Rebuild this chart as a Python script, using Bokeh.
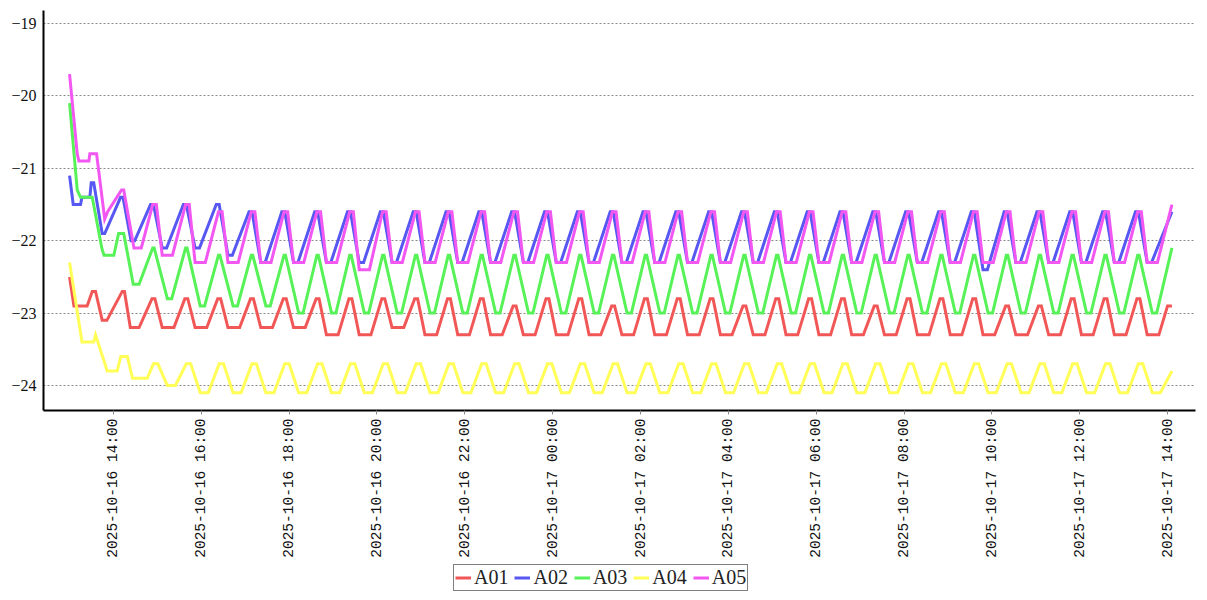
import math
from datetime import datetime, timedelta

from bokeh.plotting import figure
from bokeh.layouts import column
from bokeh.models import (Range1d, FixedTicker, DatetimeTickFormatter,
                          CustomJSTickFormatter, Legend, LegendItem)
from bokeh.embed import file_html
from bokeh.resources import INLINE

# ---------------- data ----------------
START = datetime(2025, 10, 16, 13, 0)

series_names = ["A01", "A02", "A03", "A04", "A05"]
colors = ["#f25757", "#5757f2", "#57f257", "#ffff57", "#f257f2"]

# start time (minutes after START) of each regular oscillation cycle
cycle_t = [110.6, 155.5, 200.4, 245.2, 290.0, 334.9, 379.7, 424.6, 469.5, 514.3,
           559.1, 604.0, 648.9, 693.7, 738.6, 783.4, 828.2, 873.1, 918.0, 962.8,
           1007.7, 1052.5, 1097.3, 1142.2, 1187.1, 1231.9, 1276.8, 1321.6, 1366.4,
           1411.3, 1456.2]

# A01 (red)
a01_head_t = [0, 6, 24, 31, 35.5, 44.6, 51, 72, 75, 83, 95]
a01_head_v = [-22.5, -22.9, -22.9, -22.7, -22.7, -23.1, -23.1, -22.7, -22.7, -23.2, -23.2]
a01_peak = [-22.8, -22.8, -22.8, -22.8, -22.8, -22.8, -22.8, -22.8, -22.8, -22.8,
            -22.8, -22.9, -22.8, -22.8, -22.9, -22.8, -22.8, -22.8, -22.9, -22.8,
            -22.8, -22.8, -22.9, -22.8, -22.8, -22.8, -22.9, -22.9, -22.8, -22.8, -22.8]
a01_trough = [-23.2, -23.2, -23.2, -23.2, -23.2, -23.3, -23.3, -23.2, -23.3, -23.3,
              -23.3, -23.3, -23.3, -23.3, -23.3, -23.3, -23.3, -23.3, -23.3, -23.3,
              -23.3, -23.3, -23.3, -23.3, -23.3, -23.3, -23.3, -23.3, -23.3, -23.3, -23.3]
a01_tail_t = [1500, 1506]
a01_tail_v = [-22.9, -22.9]

# A02 (blue)
a02_head_t = [0, 5, 15, 17, 27.7, 29.6, 33, 44.6, 48, 69.7, 73, 84, 89]
a02_head_v = [-21.1, -21.5, -21.5, -21.4, -21.4, -21.2, -21.2, -21.9, -21.9, -21.4, -21.4, -22.0, -22.0]
a02_peak = [-21.5, -21.5, -21.5, -21.6, -21.6, -21.6, -21.6, -21.6, -21.6, -21.6,
            -21.6, -21.6, -21.6, -21.6, -21.6, -21.6, -21.6, -21.6, -21.6, -21.6,
            -21.6, -21.6, -21.6, -21.6, -21.6, -21.6, -21.6, -21.6, -21.6, -21.6, -21.6]
a02_trough = [-22.1, -22.1, -22.2, -22.3, -22.3, -22.3, -22.3, -22.3, -22.3, -22.3,
              -22.3, -22.3, -22.3, -22.3, -22.3, -22.3, -22.3, -22.3, -22.3, -22.3,
              -22.3, -22.3, -22.3, -22.3, -22.3, -22.4, -22.3, -22.3, -22.3, -22.3, -22.3]
a02_tail_t = [1506]
a02_tail_v = [-21.6]

# A03 (green)
a03_head_t = [0, 10.5, 15, 31, 44, 47, 60.5, 67, 74, 87, 95]
a03_head_v = [-20.1, -21.3, -21.4, -21.4, -22.1, -22.2, -22.2, -21.9, -21.9, -22.6, -22.6]
a03_peak = [-22.1, -22.1, -22.2, -22.2, -22.2, -22.2, -22.2, -22.2, -22.2, -22.2,
            -22.2, -22.2, -22.2, -22.2, -22.2, -22.2, -22.2, -22.2, -22.2, -22.2,
            -22.2, -22.2, -22.2, -22.2, -22.2, -22.2, -22.2, -22.2, -22.2, -22.2, -22.2]
a03_trough = [-22.8, -22.9, -22.9, -22.9, -23.0, -23.0, -23.0, -23.0, -23.0, -23.0,
              -23.0, -23.0, -23.0, -23.0, -23.0, -23.0, -23.0, -23.0, -23.0, -23.0,
              -23.0, -23.0, -23.0, -23.0, -23.0, -23.0, -23.0, -23.0, -23.0, -23.0, -23.0]
a03_tail_t = [1506]
a03_tail_v = [-22.1]

# A04 (yellow)
a04_head_t = [0, 17, 33, 35.5, 51.5, 65, 70, 79, 86, 106]
a04_head_v = [-22.3, -23.4, -23.4, -23.3, -23.8, -23.8, -23.6, -23.6, -23.9, -23.9]
a04_peak = [-23.7, -23.7, -23.7, -23.7, -23.7, -23.7, -23.7, -23.7, -23.7, -23.7,
            -23.7, -23.7, -23.7, -23.7, -23.7, -23.7, -23.7, -23.7, -23.7, -23.7,
            -23.7, -23.7, -23.7, -23.7, -23.7, -23.7, -23.7, -23.7, -23.7, -23.7, -23.7]
a04_trough = [-24.0, -24.1, -24.1, -24.1, -24.1, -24.1, -24.1, -24.1, -24.1, -24.1,
              -24.1, -24.1, -24.1, -24.1, -24.1, -24.1, -24.1, -24.1, -24.1, -24.1,
              -24.1, -24.1, -24.1, -24.1, -24.1, -24.1, -24.1, -24.1, -24.1, -24.1, -24.1]
a04_tail_t = [1506]
a04_tail_v = [-23.8]

# A05 (magenta)
a05_head_t = [0, 10.5, 12.7, 26.4, 27.7, 36.9, 48, 52, 71, 74, 88, 98]
a05_head_v = [-19.7, -20.8, -20.9, -20.9, -20.8, -20.8, -21.7, -21.6, -21.3, -21.3, -22.1, -22.1]
a05_peak = [-21.5, -21.5, -21.6, -21.6, -21.6, -21.6, -21.6, -21.6, -21.6, -21.6,
            -21.6, -21.6, -21.6, -21.6, -21.6, -21.6, -21.6, -21.6, -21.6, -21.6,
            -21.6, -21.6, -21.6, -21.6, -21.6, -21.6, -21.6, -21.6, -21.6, -21.6, -21.6]
a05_trough = [-22.2, -22.3, -22.3, -22.3, -22.3, -22.3, -22.4, -22.3, -22.3, -22.3,
              -22.3, -22.3, -22.3, -22.3, -22.3, -22.3, -22.3, -22.3, -22.3, -22.3,
              -22.3, -22.3, -22.3, -22.3, -22.3, -22.3, -22.3, -22.3, -22.3, -22.3, -22.3]
a05_tail_t = [1506]
a05_tail_v = [-21.5]

# minutes after cycle start: peak begins, peak ends, trough begins, trough ends
shape = {
    "A01": (2, 6, 16, 32),
    "A02": (0, 4, 16, 22),
    "A03": (3, 5, 23, 29),
    "A04": (4, 10, 23, 34),
    "A05": (3, 8, 16, 30),
}

tick_times = ["2025-10-16 14:00", "2025-10-16 16:00", "2025-10-16 18:00",
              "2025-10-16 20:00", "2025-10-16 22:00", "2025-10-17 00:00",
              "2025-10-17 02:00", "2025-10-17 04:00", "2025-10-17 06:00",
              "2025-10-17 08:00", "2025-10-17 10:00", "2025-10-17 12:00",
              "2025-10-17 14:00"]
y_ticks = [-24, -23, -22, -21, -20, -19]

# ---------------- build ----------------
data = {
    "A01": (a01_head_t, a01_head_v, a01_peak, a01_trough, a01_tail_t, a01_tail_v),
    "A02": (a02_head_t, a02_head_v, a02_peak, a02_trough, a02_tail_t, a02_tail_v),
    "A03": (a03_head_t, a03_head_v, a03_peak, a03_trough, a03_tail_t, a03_tail_v),
    "A04": (a04_head_t, a04_head_v, a04_peak, a04_trough, a04_tail_t, a04_tail_v),
    "A05": (a05_head_t, a05_head_v, a05_peak, a05_trough, a05_tail_t, a05_tail_v),
}


def vertices(name):
    ht, hv, pk, tr, tt, tv = data[name]
    o = shape[name]
    ts, vs = list(ht), list(hv)
    for c, p, t in zip(cycle_t, pk, tr):
        ts += [c + o[0], c + o[1], c + o[2], c + o[3]]
        vs += [p, p, t, t]
    ts += tt
    vs += tv
    return [START + timedelta(minutes=m) for m in ts], vs


EPOCH = datetime(1970, 1, 1)


def ms(s):
    return (datetime.strptime(s, "%Y-%m-%d %H:%M") - EPOCH).total_seconds() * 1000.0


p = figure(width=1199, height=560, x_axis_type="datetime",
           output_backend="svg", toolbar_location=None,
           x_range=Range1d(START - timedelta(minutes=35.6), START + timedelta(minutes=1538.2)),
           y_range=Range1d(-24.345, -18.82),
           min_border_left=43, min_border_right=4, min_border_top=10, min_border_bottom=150)
p.outline_line_color = None
p.background_fill_color = "white"
p.border_fill_color = "white"

for name, col in zip(series_names, colors):
    xs, ys = vertices(name)
    p.line(xs, ys, line_width=3, line_color=col, line_join="miter")

# axes
p.xaxis.ticker = FixedTicker(ticks=[ms(s) for s in tick_times])
fmt = "%Y-%m-%d %H:%M"
p.xaxis.formatter = DatetimeTickFormatter(minutes=fmt, hourmin=fmt, hours=fmt, days=fmt,
                                          months=fmt, years=fmt)
p.xaxis.major_label_orientation = math.pi / 2
p.xaxis.major_label_text_font = "Liberation Mono"
p.xaxis.major_label_text_font_size = "14.5px"
p.xaxis.major_label_text_color = "#111111"
p.xaxis.major_label_standoff = 4
p.xaxis.major_tick_out = 4
p.xaxis.major_tick_in = 0
p.xaxis.major_tick_line_color = "#888888"
p.xaxis.minor_tick_line_color = None
p.xaxis.axis_line_width = 2
p.xaxis.axis_line_color = "#000000"

p.yaxis.ticker = FixedTicker(ticks=y_ticks)
p.yaxis.formatter = CustomJSTickFormatter(
    code="return (tick < 0 ? '\\u2212' : '') + Math.abs(tick).toFixed(0);")
p.yaxis.major_label_text_font = "Liberation Serif"
p.yaxis.major_label_text_font_size = "16px"
p.yaxis.major_label_text_color = "#111111"
p.yaxis.major_label_standoff = 7
p.yaxis.major_tick_out = 0
p.yaxis.major_tick_in = 0
p.yaxis.minor_tick_line_color = None
p.yaxis.axis_line_width = 2
p.yaxis.axis_line_color = "#000000"

p.xgrid.grid_line_color = None
p.ygrid.ticker = FixedTicker(ticks=y_ticks)
p.ygrid.grid_line_color = "#888888"
p.ygrid.grid_line_dash = "2 2"
p.ygrid.grid_line_width = 1

# legend strip below the chart (its swatch lines sit outside its visible range)
lg = figure(width=1199, height=32, output_backend="svg", toolbar_location=None,
            x_range=Range1d(0, 1), y_range=Range1d(0, 1),
            x_axis_location=None, y_axis_location=None,
            min_border=0, min_border_left=0, min_border_right=0,
            min_border_top=0, min_border_bottom=0)
lg.outline_line_color = None
lg.grid.visible = False
lg.background_fill_color = "white"
lg.border_fill_color = "white"
swatches = [lg.line(x=[5, 6], y=[5, 6], line_width=3, line_color=c) for c in colors]

legend = Legend(items=[LegendItem(label=n, renderers=[r]) for n, r in zip(series_names, swatches)],
                orientation="horizontal", location=(410, 1))
legend.label_text_font = "Liberation Serif"
legend.label_text_font_size = "20px"
legend.label_text_color = "#222222"
legend.glyph_width = 16
legend.glyph_height = 17
legend.label_height = 17
legend.label_standoff = 3
legend.spacing = 6
legend.padding = 1
legend.margin = 0
legend.border_line_color = "#000000"
legend.border_line_width = 1
legend.background_fill_color = "white"
legend.background_fill_alpha = 1.0
lg.add_layout(legend)

layout = column(p, lg, spacing=0)
open("out.html", "w").write(file_html(layout, INLINE))
